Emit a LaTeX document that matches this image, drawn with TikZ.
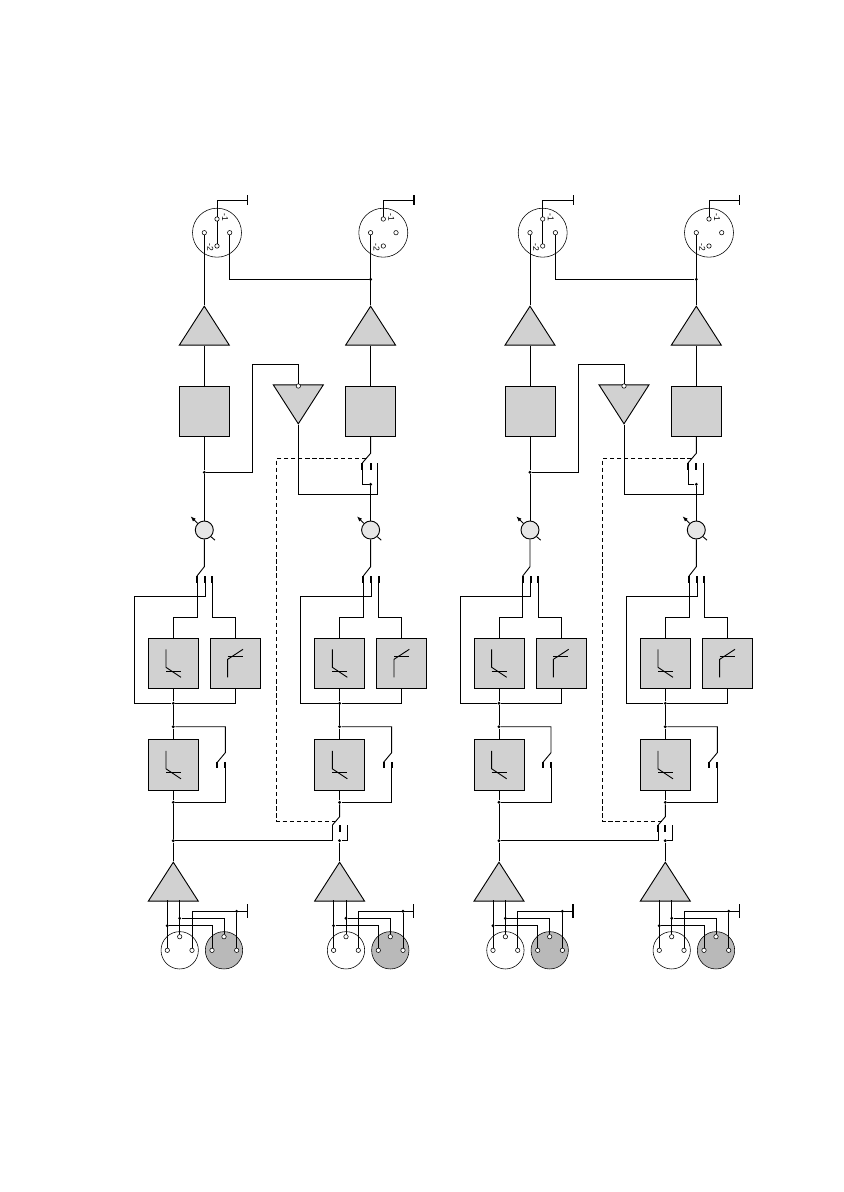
\documentclass[tikz,border=0pt]{standalone}
\usepackage{fontspec}
\setmainfont{Liberation Sans}
\usetikzlibrary{shapes.geometric,arrows.meta}
\definecolor{boxgray}{HTML}{D1D1D1}
\definecolor{potgray}{HTML}{E6E6E6}
\definecolor{xlrgray}{HTML}{B9B9B9}
\newcommand{\lowcut}[1]{
	\draw ([shift={(-7.3,-14)}]#1.center) -- ++(0,18) -- ++(15,10);
	\draw ([shift={(-7.3,8)}]#1.center) -- ++(15,0);
}
\newcommand{\highcut}[1]{
	\draw ([shift={(-7.6,14)}]#1.center) -- ++(0,-18) -- ++(15.3,-10);
	\draw ([shift={(-7.6,-7)}]#1.center) -- ++(15,0);
}

\begin{document}
\begin{tikzpicture}[
	x=0.0249cm, y=-0.0249cm, line width=0.65pt,
	amp/.style={isosceles triangle, isosceles triangle stretches, shape border rotate=90,
		draw, fill=boxgray, minimum width=1.245cm, minimum height=0.97cm, inner sep=0pt, anchor=apex},
	inv/.style={amp, shape border rotate=270},
	box/.style={rectangle, draw, fill=boxgray, minimum size=1.245cm, inner sep=0pt},
	cut/.style={box, minimum height=1.27cm},
	potm/.style={circle, draw, fill=potgray, minimum size=0.448cm, inner sep=0pt},
	xlr/.style={circle, draw, line width=0.4pt, fill=white, minimum size=1.22cm, inner sep=0pt},
	xin/.style={xlr, minimum size=0.93cm},
	xgr/.style={xin, fill=xlrgray},
	pin/.style={circle, draw, line width=0.4pt, fill=white, minimum size=0.11cm, inner sep=0pt},
	dot/.style={circle, draw=none, fill=black, minimum size=0.08cm, inner sep=0pt},
	pinlab/.style={font=\fontsize{6}{6}\selectfont, rotate=-90, inner sep=0pt},
	contact/.style={line width=1.3pt},
	ground/.style={line width=0.9pt},
	sense/.style={densely dashed, line width=0.5pt}
	]
	\useasboundingbox (0,0) rectangle (843,1192);
	\foreach \ox/\s in {0/a,325.7/b}{
		\begin{scope}[shift={(\ox,0)}]
			\foreach \dx/\c in {0/l,166.3/r}{
				\begin{scope}[shift={(\dx,0)}]
					\node (xo\s\c) [xlr] at (217,232.7) {};
					\node (po\s\c1) [pin] at (217,219) {};
					\node (po\s\c2) [pin] at (217,246) {};
					\node (po\s\c3) [pin] at (204.3,232.7) {};
					\node (po\s\c4) [pin] at (229.7,232.7) {};
					\node (lo\s\c1) [pinlab] at (225,217.5) {-1};
					\node (lo\s\c2) [pinlab] at (210.3,247) {-2};
					\coordinate (gt\s\c) at (247.7,200);
					\draw (po\s\c1) |- (gt\s\c);
					\draw[ground] (gt\s\c) ++(0,-5) -- ++(0,10);

					\node (ao\s\c) [amp] at (204.3,305) {};
					\node (sq\s\c) [box] at (204.3,411.5) {};
					\node (pot\s\c) [potm] at (204.3,530) {};
					\draw (po\s\c3) -- (ao\s\c.apex);
					\draw (ao\s\c.lower side) -- (sq\s\c.north);
					\draw[-{Latex[length=1.3mm,width=1mm]}] (pot\s\c.135) -- ++(-7,-7);
					\draw (pot\s\c.-45) -- ++(4,3.5);

					\coordinate (sa\s\c) at (204.3,566.7);
					\coordinate (ca\s\c) at (197,576);
					\coordinate (cb\s\c) at (205,576);
					\coordinate (cc\s\c) at (212.3,576);
					\draw (pot\s\c.south) -- (sa\s\c) -- (ca\s\c);
					\draw[contact] (ca\s\c) -- ++(0,6.5);
					\draw[contact] (cb\s\c) -- ++(0,6.5);
					\draw[contact] (cc\s\c) -- ++(0,6.5);

					\node (bl\s\c) [box] at (173.3,663.3) {};
					\node (bh\s\c) [box] at (235.3,663.3) {};
					\lowcut{bl\s\c}
					\highcut{bh\s\c}
					\node (da\s\c) [dot] at (173.3,703.3) {};
					\node (db\s\c) [dot] at (173.3,726.7) {};
					\coordinate (wl\s\c) at (173.3,617.3);
					\coordinate (wh\s\c) at (235.3,617.3);
					\coordinate (fb\s\c) at (134.3,596);
					\draw (ca\s\c) |- (wl\s\c) -- (bl\s\c.north);
					\draw (cc\s\c) |- (wh\s\c) -- (bh\s\c.north);
					\draw (cb\s\c) |- (fb\s\c) |- (da\s\c);
					\draw (bl\s\c.south) -- (da\s\c);
					\draw (bh\s\c.south) |- (da\s\c);
					\draw (da\s\c) -- (db\s\c);

					\node (lc\s\c) [cut] at (173.3,764.8) {};
					\lowcut{lc\s\c}
					\node (dc\s\c) [dot] at (173.3,802.3) {};
					\coordinate (ta\s\c) at (225.3,752.7);
					\coordinate (tb\s\c) at (217.3,762.3);
					\coordinate (tc\s\c) at (225.3,762.3);
					\draw (db\s\c) -- (lc\s\c.north);
					\draw (lc\s\c.south) -- (dc\s\c);
					\draw (db\s\c) -| (ta\s\c) -- (tb\s\c);
					\draw (tc\s\c) |- (dc\s\c);
					\draw[contact] (tb\s\c) -- ++(0,6);
					\draw[contact] (tc\s\c) -- ++(0,6);

					\node (dd\s\c) [dot] at (173.3,840.7) {};
					\node (ai\s\c) [amp] at (173.3,861) {};
					\draw (dd\s\c) -- (ai\s\c.apex);
					\node (xf\s\c) [xin] at (179.7,950.3) {};
					\node (xm\s\c) [xgr] at (224,950.3) {};
					\node (pf\s\c1) [pin] at (167.3,950.3) {};
					\node (pf\s\c2) [pin] at (179.7,936.7) {};
					\node (pf\s\c3) [pin] at (192,950.3) {};
					\node (pm\s\c1) [pin] at (212,950.3) {};
					\node (pm\s\c2) [pin] at (224,936.7) {};
					\node (pm\s\c3) [pin] at (236.7,950.3) {};
					\coordinate (ia\s\c) at (167.3,900);
					\coordinate (ib\s\c) at (179.7,900);
					\coordinate (gi\s\c) at (247.3,911.3);
					\node (de\s\c) [dot] at (167.3,925.7) {};
					\node (df\s\c) [dot] at (179.7,918.3) {};
					\node (dg\s\c) [dot] at (236.7,911.3) {};
					\draw (ia\s\c) -- (pf\s\c1);
					\draw (ib\s\c) -- (pf\s\c2);
					\draw (de\s\c) -| (pm\s\c1);
					\draw (df\s\c) -| (pm\s\c2);
					\draw (pf\s\c3) |- (gi\s\c);
					\draw (dg\s\c) -- (pm\s\c3);
					\draw[ground] (gi\s\c) ++(0,-7) -- ++(0,14);
				\end{scope}
			}
			\draw (po\s l2) -- (po\s l1);
			\node (dt\s) [dot] at (370.6,279.3) {};
			\draw (po\s l4) |- (dt\s);

			\node (jl\s) [dot] at (204.3,472.3) {};
			\draw (sq\s l.south) -- (jl\s) -- (pot\s l.north);
			\node (in\s) [inv] at (298.3,425) {};
			\node (pi\s) [pin] at (298.3,386) {};
			\coordinate (fa\s) at (252.3,364.3);
			\coordinate (fb\s) at (377.3,494.3);
			\coordinate (ua\s) at (370.6,453.3);
			\coordinate (ub\s) at (362.3,463);
			\coordinate (uc\s) at (370.6,463);
			\coordinate (ud\s) at (377.3,463);
			\node (jr\s) [dot] at (370.6,484.3) {};
			\draw (jl\s) -| (fa\s) -| (pi\s);
			\draw (in\s.apex) |- (fb\s) -- (ud\s);
			\draw (sq\s r.south) -- (ua\s) -- (ub\s);
			\draw[contact] (ub\s) -- ++(0,6.5);
			\draw[contact] (uc\s) -- ++(0,6.5);
			\draw (ub\s) |- (jr\s);
			\draw (jr\s) -- (pot\s r.north);

			\coordinate (va\s) at (339.6,816.7);
			\coordinate (vb\s) at (332.5,825);
			\coordinate (vc\s) at (339.6,825);
			\coordinate (vd\s) at (347,825);
			\draw (dc\s l) -- (dd\s l);
			\draw (dc\s r) -- (va\s) -- (vb\s);
			\draw[contact] (vb\s) -- ++(0,7);
			\draw[contact] (vc\s) -- ++(0,7);
			\draw (vb\s) |- (dd\s l);
			\draw (vd\s) |- (dd\s r);

			\coordinate (sa\s) at (366,458.3);
			\coordinate (sb\s) at (276.5,458.3);
			\coordinate (sc\s) at (276.5,821.3);
			\coordinate (sd\s) at (336,821.3);
			\draw[sense] (sa\s) -- (sb\s) -- (sc\s) -- (sd\s);
		\end{scope}
	}
\end{tikzpicture}
\end{document}
